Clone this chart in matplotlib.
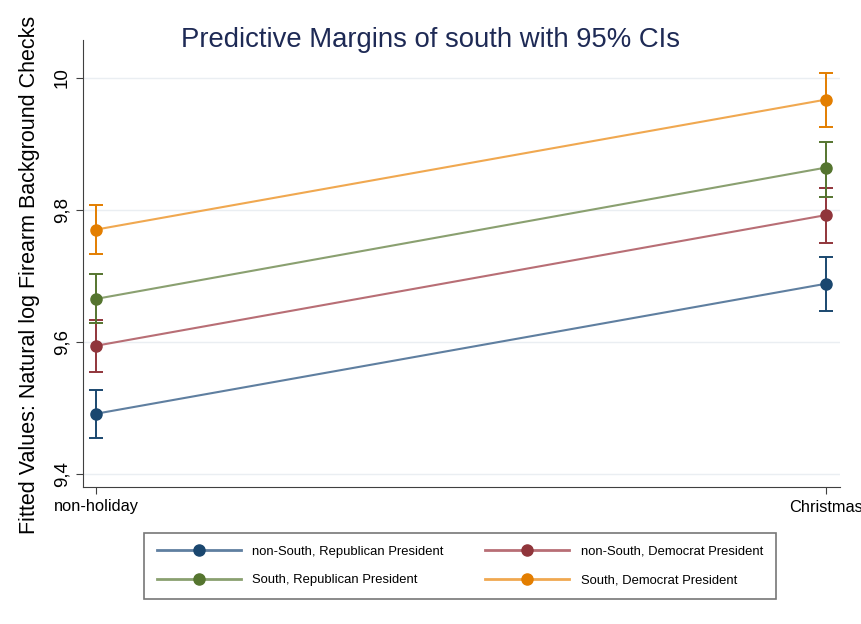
import matplotlib
matplotlib.use('Agg')
import matplotlib.pyplot as plt
from matplotlib.lines import Line2D

plt.rcParams['font.family'] = ['Liberation Sans', 'DejaVu Sans']

# margins
periods = ['non-holiday', 'Christmas']
groups = ['non-South, Republican President', 'non-South, Democrat President',
          'South, Republican President', 'South, Democrat President']
margin = [[9.491, 9.688],
          [9.594, 9.792],
          [9.665, 9.864],
          [9.770, 9.967]]
ci_low = [[9.455, 9.647],
          [9.555, 9.750],
          [9.629, 9.820],
          [9.733, 9.926]]
ci_high = [[9.527, 9.729],
           [9.633, 9.833],
           [9.702, 9.903],
           [9.808, 10.008]]
yticks = [9.4, 9.6, 9.8, 10.0]
ytick_labels = ['9,4', '9,6', '9,8', '10']
colors = ['#1a476f', '#90353b', '#55752f', '#e37e00']
line_colors = ['#5f7fa0', '#b86e75', '#8aa070', '#f0a850']

fig = plt.figure(figsize=(8.62, 6.24), dpi=100)
ax = fig.add_axes([83/862, 1-487/624, (840-83)/862, (487-40)/624])

xs = list(range(len(periods)))
for i in range(len(groups)):
    lo = [margin[i][j] - ci_low[i][j] for j in xs]
    hi = [ci_high[i][j] - margin[i][j] for j in xs]
    ax.errorbar(xs, margin[i], yerr=[lo, hi], fmt='none', ecolor=colors[i],
                elinewidth=1.4, capsize=5, capthick=1.4, zorder=3)
    ax.plot(xs, margin[i], color=line_colors[i], lw=1.5, zorder=2)
    ax.plot(xs, margin[i], 'o', color=colors[i], ms=8, zorder=4)

ax.set_xlim(-13/730, 1 + 14/730)
ax.set_ylim(9.38, 9.38 + 447/660)
ax.set_xticks(xs)
ax.set_xticklabels(periods, fontsize=11.8)
ax.set_yticks(yticks)
ax.set_yticklabels(ytick_labels, fontsize=13.5, rotation=90, va='center')
ax.yaxis.grid(True, color='#eaeef2', lw=1)
ax.set_axisbelow(True)
for s in ['top', 'right']:
    ax.spines[s].set_visible(False)
for s in ['left', 'bottom']:
    ax.spines[s].set_color('#404040')
ax.tick_params(axis='both', length=5, color='#404040', pad=4)

fig.text(431/862, 1-40/624, 'Predictive Margins of south with 95% CIs',
         ha='center', va='center', fontsize=19.8, color='#1e2a55')
fig.text(30/862, 1-275/624,
         'Fitted Values: Natural log Firearm Background Checks',
         rotation=90, ha='center', va='center', fontsize=15.5)

# legend: matplotlib fills by column, so reorder to read row by row
handles = [Line2D([], [], color=line_colors[i], lw=2, marker='o',
                  mfc=colors[i], mec=colors[i], ms=8) for i in range(4)]
order = [0, 2, 1, 3]
leg = fig.legend([handles[k] for k in order], [groups[k] for k in order],
                 ncol=2, loc='center', bbox_to_anchor=(460/862, 1-566/624),
                 fontsize=9.4, handlelength=6.4, columnspacing=3.2,
                 handletextpad=0.9, labelspacing=1.25, borderpad=1.0,
                 fancybox=False, edgecolor='#777777', framealpha=1)
leg.get_frame().set_linewidth(1.2)

fig.savefig('out.png', dpi=100)
